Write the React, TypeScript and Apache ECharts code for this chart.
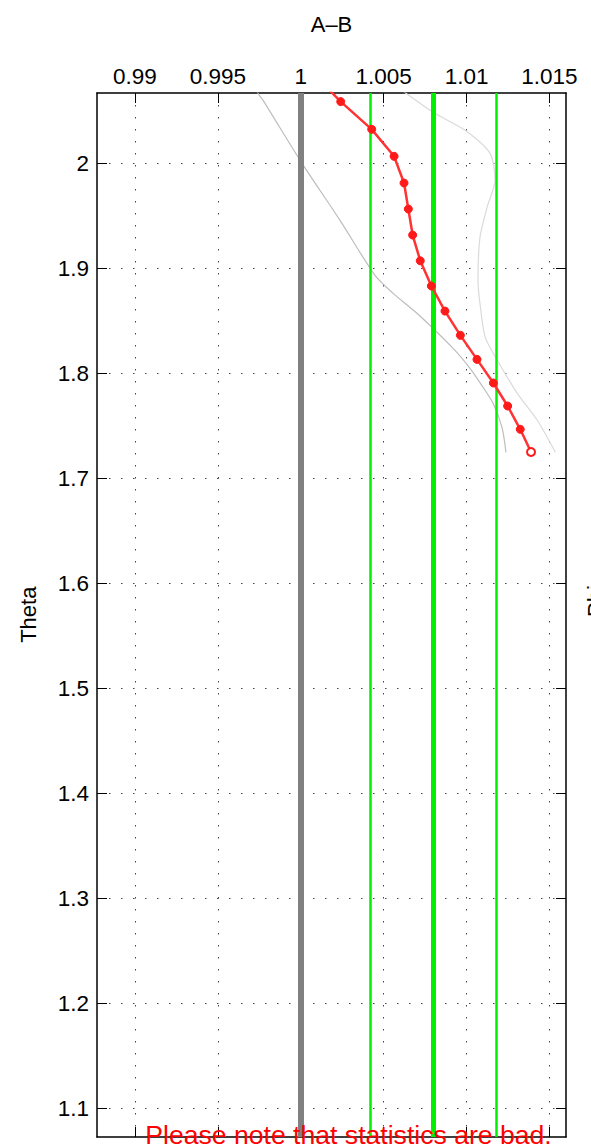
import React, { useEffect, useRef } from "react";
import * as echarts from "echarts";

// ---- axes ----
const xTicks = [0.99, 0.995, 1, 1.005, 1.01, 1.015];
const yTicks = [1.1, 1.2, 1.3, 1.4, 1.5, 1.6, 1.7, 1.8, 1.9, 2];
const xRange = [0.98771, 1.016];
const yRange = [1.0724, 2.0667];

// ---- red measured series (A-B vs Theta) ----
const redX = [1.00082, 1.00241, 1.00428, 1.00563, 1.00623, 1.00649, 1.00675, 1.00721, 1.00788, 1.0087, 1.00963, 1.01063, 1.01162, 1.01248, 1.01324, 1.01389];
const redY = [2.0842, 2.0585, 2.0321, 2.0064, 1.981, 1.9562, 1.9314, 1.9069, 1.8829, 1.859, 1.8359, 1.813, 1.7905, 1.7686, 1.7464, 1.7248];

// ---- grey envelope curves ----
const lowerX = [0.99724, 0.99742, 0.99773, 0.99996, 1.00237, 1.00448, 1.00557, 1.00701, 1.00919, 1.01021, 1.011, 1.0116, 1.01214, 1.01238];
const lowerY = [2.074, 2.0664, 2.0597, 2.0026, 1.9454, 1.893, 1.8759, 1.8569, 1.8235, 1.8045, 1.7864, 1.7712, 1.7483, 1.7245];
const upperX = [1.00569, 1.00635, 1.00798, 1.00991, 1.01142, 1.01172, 1.01124, 1.01081, 1.01069, 1.01081, 1.01113, 1.01186, 1.01306, 1.01427, 1.01536];
const upperY = [2.074, 2.0664, 2.0483, 2.0312, 2.0092, 1.9836, 1.9578, 1.9292, 1.8883, 1.8664, 1.834, 1.8121, 1.7807, 1.755, 1.7245];

// ---- reference lines ----
const referenceValue = 1;
const greenValues = [1.00422, 1.00799, 1.0118];

// ---- texts ----
const titleText = "A\u2013B";
const yLabelText = "Theta";
const sideLabelText = "Phi";
const noteText = "Please note that statistics are bad.";

const FONT = "'Liberation Sans', Arial, Helvetica, sans-serif";

export default function App() {
  const ref = useRef<HTMLDivElement>(null);

  useEffect(() => {
    const el = ref.current;
    if (!el) return;
    const chart = echarts.init(el, null, { renderer: "svg" });

    const zip = (xs: number[], ys: number[]) => xs.map((x, i) => [x, ys[i]]);
    const redData: any[] = zip(redX, redY).map((p, i, arr) =>
      i === arr.length - 1 ? { value: p, symbol: "emptyCircle" } : p
    );

    const axisLine = { show: true, onZero: false, lineStyle: { color: "#000", width: 1.5 } };
    const tick = (vals: number[]) => ({
      show: true,
      inside: true,
      length: 10,
      customValues: vals,
      lineStyle: { color: "#000", width: 1 },
    });
    const gridStyle = { type: [1.5, 10.5], color: "#444", width: 1 };

    chart.setOption({
      animation: false,
      backgroundColor: "#fff",
      textStyle: { fontFamily: FONT },
      grid: { left: 97, top: 93, right: 25, bottom: 11, containLabel: false },
      xAxis: [
        {
          type: "value",
          position: "top",
          min: xRange[0],
          max: xRange[1],
          minInterval: 0.005,
          maxInterval: 0.005,
          axisLine,
          axisTick: tick(xTicks),
          axisLabel: { customValues: xTicks, fontSize: 22.5, color: "#000", margin: 5, fontFamily: FONT },
          splitLine: { show: true, lineStyle: gridStyle },
        },
        {
          type: "value",
          position: "bottom",
          min: xRange[0],
          max: xRange[1],
          axisLine,
          axisTick: tick(xTicks),
          axisLabel: { show: false },
          splitLine: { show: false },
        },
      ],
      yAxis: [
        {
          type: "value",
          position: "left",
          min: yRange[0],
          max: yRange[1],
          minInterval: 0.1,
          maxInterval: 0.1,
          axisLine,
          axisTick: tick(yTicks),
          axisLabel: { customValues: yTicks, fontSize: 22.5, color: "#000", margin: 8, fontFamily: FONT },
          splitLine: { show: true, lineStyle: gridStyle },
        },
        {
          type: "value",
          position: "right",
          min: yRange[0],
          max: yRange[1],
          axisLine,
          axisTick: tick(yTicks),
          axisLabel: { show: false },
          splitLine: { show: false },
        },
      ],
      series: [
        {
          type: "line",
          name: "lower",
          data: zip(lowerX, lowerY),
          symbol: "none",
          smooth: 0.25,
          lineStyle: { color: "#bdbdbd", width: 1.2 },
          z: 2,
          silent: true,
        },
        {
          type: "line",
          name: "upper",
          data: zip(upperX, upperY),
          symbol: "none",
          smooth: 0.25,
          lineStyle: { color: "#dadada", width: 1.2 },
          z: 2,
          silent: true,
        },
        {
          type: "line",
          name: "reference",
          data: [],
          z: 3,
          markLine: {
            silent: true,
            precision: 6,
            symbol: ["none", "none"],
            label: { show: false },
            lineStyle: { color: "#808080", width: 6, type: "solid" },
            data: [{ xAxis: referenceValue }],
          },
        },
        {
          type: "line",
          name: "green",
          data: [],
          z: 4,
          markLine: {
            silent: true,
            precision: 6,
            symbol: ["none", "none"],
            label: { show: false },
            lineStyle: { color: "#00f000", width: 2.5, type: "solid" },
            data: greenValues.map((v, i) => ({
              xAxis: v,
              lineStyle: { color: "#00f000", width: i === 1 ? 5 : 2.5, type: "solid" },
            })),
          },
        },
        {
          type: "line",
          name: "measured",
          data: redData,
          symbol: "circle",
          symbolSize: 8,
          showAllSymbol: true,
          clip: true,
          itemStyle: { color: "#ff1a1a", borderColor: "#ff1a1a" },
          lineStyle: { color: "#ff3333", width: 2.5 },
          z: 5,
          silent: true,
        },
      ],
      graphic: [
        {
          type: "text",
          x: 331.5,
          y: 24.7,
          style: { text: titleText, fontSize: 22, fontFamily: FONT, fill: "#000", align: "center", verticalAlign: "middle" },
        },
        {
          type: "text",
          x: 28,
          y: 614.7,
          rotation: Math.PI / 2,
          style: { text: yLabelText, fontSize: 22, fontFamily: FONT, fill: "#000", align: "center", verticalAlign: "middle" },
        },
        {
          type: "text",
          x: 595,
          y: 601,
          rotation: Math.PI / 2,
          style: { text: sideLabelText, fontSize: 22, fontFamily: FONT, fill: "#000", align: "center", verticalAlign: "middle" },
        },
        {
          type: "text",
          x: 348.5,
          y: 1135,
          z: 100,
          style: { text: noteText, fontSize: 26.6, fontFamily: FONT, fill: "#ff0000", align: "center", verticalAlign: "middle" },
        },
      ],
    });

    return () => {
      chart.dispose();
    };
  }, []);

  return (
    <div
      ref={ref}
      style={{ position: "absolute", left: 0, top: 0, width: 591, height: 1148, background: "#fff" }}
    />
  );
}
